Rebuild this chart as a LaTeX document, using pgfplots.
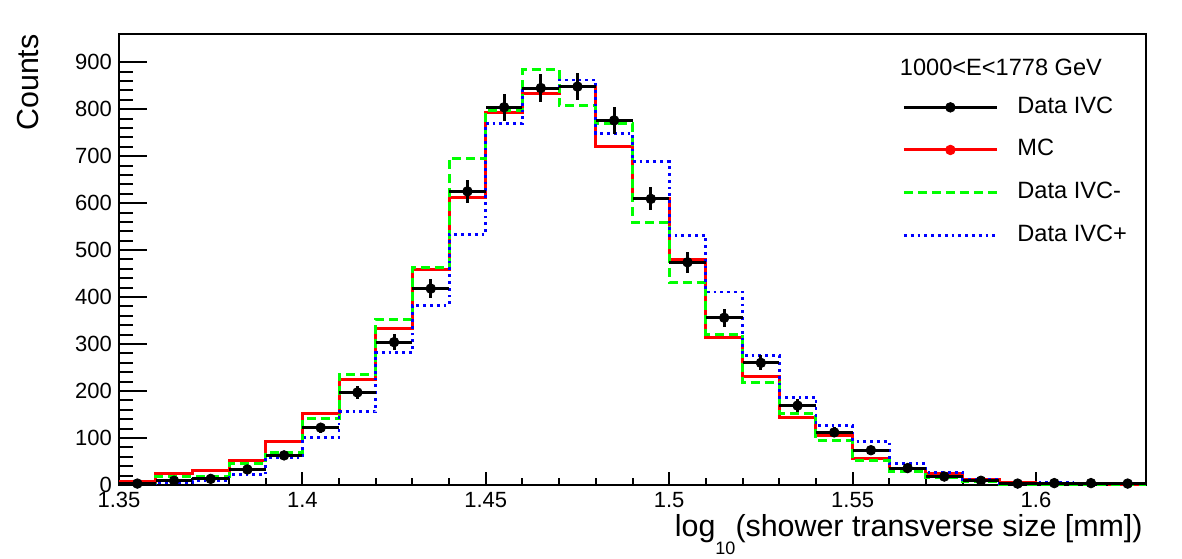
\documentclass[border=0pt]{standalone}
\usepackage{fontspec}
\setmainfont{Liberation Sans}
\usepackage{pgfplots}
\pgfplotsset{compat=1.18}
\usepackage{pgfplotstable}

% data points: bin centre, counts, error
\pgfplotstableread{
x d ed
1.355 3 1.7
1.365 9 3.0
1.375 13 3.6
1.385 33 5.7
1.395 63 7.9
1.405 122 11.0
1.415 197 14.0
1.425 304 17.4
1.435 418 20.4
1.445 625 25.0
1.455 804 28.4
1.465 845 29.1
1.475 848 29.1
1.485 776 27.9
1.495 609 24.7
1.505 474 21.8
1.515 356 18.9
1.525 260 16.1
1.535 169 13.0
1.545 112 10.6
1.555 74 8.6
1.565 36 6.0
1.575 18 4.2
1.585 9 3.0
1.595 3 1.7
1.605 4 2.0
1.615 4 2.0
1.625 3 1.7
}\datatab

% histograms: left bin edge, MC, IVC-, IVC+
\pgfplotstableread{
e r g b
1.35 8 4 2
1.36 24 18 6
1.37 30 18 10
1.38 52 45 22
1.39 92 69 58
1.40 153 141 101
1.41 225 236 156
1.42 333 353 282
1.43 459 464 382
1.44 611 695 533
1.45 792 797 770
1.46 834 884 843
1.47 849 807 862
1.48 721 770 749
1.49 609 559 688
1.50 479 431 531
1.51 314 321 411
1.52 231 218 275
1.53 144 153 187
1.54 105 94 127
1.55 57 52 93
1.56 36 29 45
1.57 25 15 27
1.58 11 8 12
1.59 6 2 4
1.60 4 2 5
1.61 3 1 4
1.62 2 1 4
1.63 2 1 4
}\histtab

\definecolor{rgreen}{RGB}{0,255,0}
\definecolor{rblue}{RGB}{0,0,255}

\begin{document}
\begin{tikzpicture}
\begin{axis}[
  scale only axis,
  width=513.5pt, height=225.5pt,
  xmin=1.35, xmax=1.63, ymin=0, ymax=960,
  clip=false,
  axis line style={line width=1pt},
  tick style={line width=1pt, black},
  tick align=inside,
  tick pos=left,
  xtick={1.35,1.4,1.45,1.5,1.55,1.6},
  xticklabels={1.35,1.4,1.45,1.5,1.55,1.6},
  ytick={0,100,...,900},
  minor x tick num=4,
  minor y tick num=4,
  xtick style={/pgfplots/major tick length=6.5pt,/pgfplots/minor tick length=3.5pt},
  ytick style={/pgfplots/major tick length=14pt,/pgfplots/minor tick length=7pt},
  /pgf/number format/assume math mode=true,
  ticklabel style={font=\fontsize{11}{13}\selectfont},
  legend cell align=left,
  legend style={at={(rel axis cs:0.7624,0.8626)}, anchor=north west,
    draw=none, fill=none, inner sep=0pt, column sep=9.5pt, row sep=10.3pt,
    font=\fontsize{11.8}{14}\selectfont,
    nodes={inner sep=0pt, text height=8.5pt, text depth=2.5pt}},
]
\addplot[const plot, red, line width=1.5pt, forget plot] table[x=e, y=r] {\histtab};
\addplot[const plot, rgreen, line width=1.5pt, dash pattern=on 4.5pt off 2.5pt, forget plot] table[x=e, y=g] {\histtab};
\addplot[const plot, rblue, line width=1.4pt, dash pattern=on 1.4pt off 2pt, forget plot] table[x=e, y=b] {\histtab};
\addplot[only marks, black, mark=*, mark size=2.4pt, forget plot,
  error bars/.cd, x dir=both, x fixed=0.005, y dir=both, y explicit,
  error mark=none, error bar style={line width=1.5pt, black}]
  table[x=x, y=d, y error=ed] {\datatab};

\addlegendimage{legend image code/.code={\draw[black,line width=1.5pt] (0pt,0pt)--(46.5pt,0pt); \fill[black] (23.25pt,0pt) circle (2.4pt);}}
\addlegendentry{Data IVC}
\addlegendimage{legend image code/.code={\draw[red,line width=1.5pt] (0pt,0pt)--(46.5pt,0pt); \fill[red] (23.25pt,0pt) circle (2.4pt);}}
\addlegendentry{MC}
\addlegendimage{legend image code/.code={\draw[rgreen,line width=1.5pt,dash pattern=on 4.5pt off 2.5pt] (0pt,0pt)--(46.5pt,0pt);}}
\addlegendentry{Data IVC-}
\addlegendimage{legend image code/.code={\draw[rblue,line width=1.4pt,dash pattern=on 1.4pt off 2pt] (0pt,0pt)--(46.5pt,0pt);}}
\addlegendentry{Data IVC+}

\node[anchor=base west, inner sep=0pt, font=\fontsize{11.8}{14}\selectfont] at (axis cs:1.5628,872) {1000<E<1778 GeV};
\end{axis}
\node[rotate=90, anchor=base east, inner sep=0pt, font=\fontsize{15.2}{18}\selectfont] at ([xshift=-40.25pt]current axis.north west) {Counts};
\node[anchor=base east, inner sep=0pt, font=\fontsize{15.2}{18}\selectfont] at ([xshift=-1.5pt,yshift=-26pt]current axis.south east) {log\raisebox{-9pt}{\fontsize{9}{10}\selectfont 10}(shower transverse size [mm])};
\pgfresetboundingbox
\path[use as bounding box] ([shift={(-59.5pt,-37pt)}]current axis.south west) rectangle ([shift={(18pt,17pt)}]current axis.north east);
\end{tikzpicture}
\end{document}
